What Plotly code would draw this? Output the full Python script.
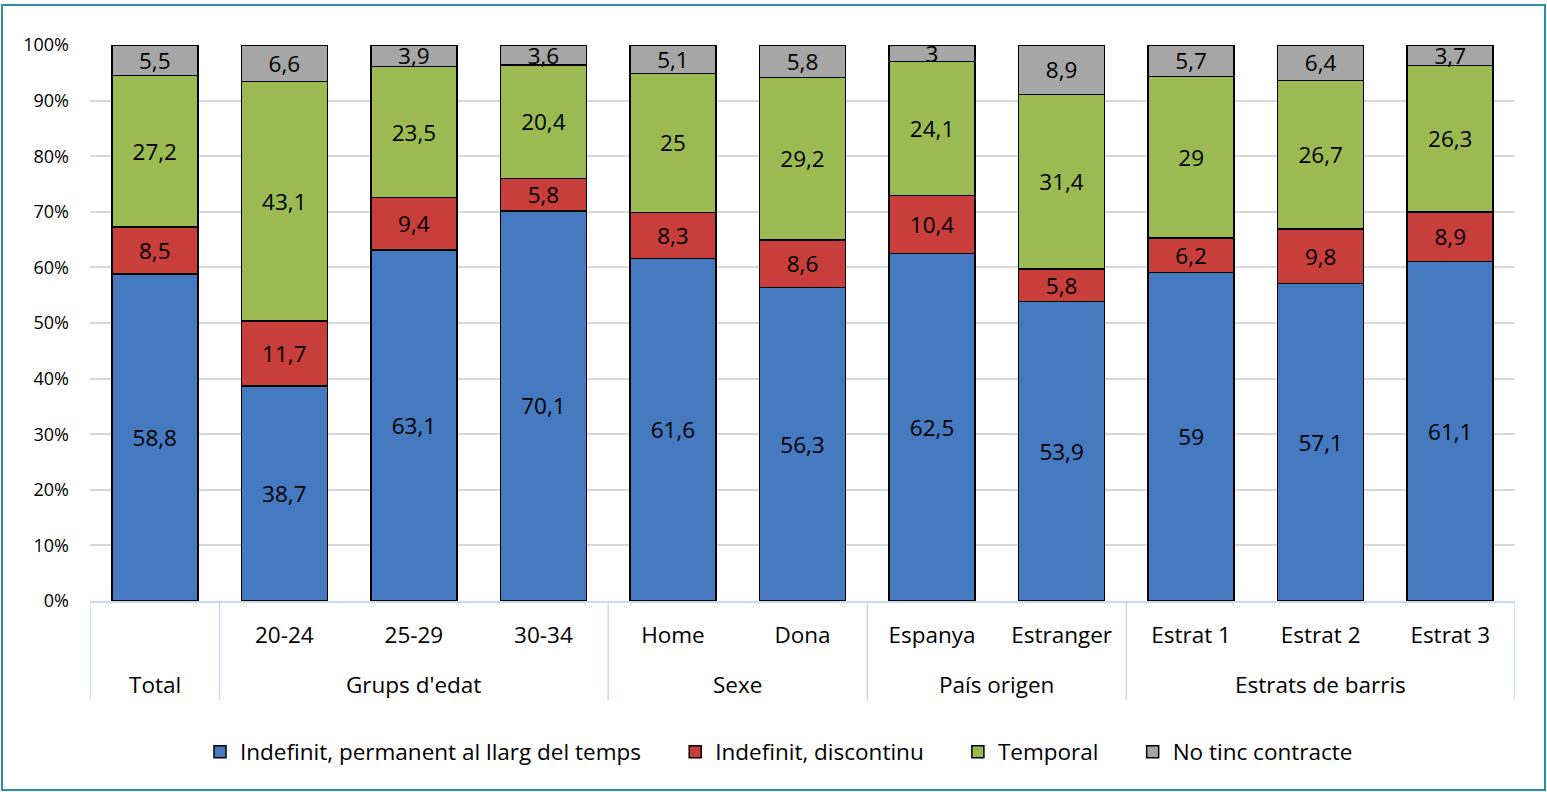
import plotly.graph_objects as go

groups = ["Total", "Grups d'edat", "Grups d'edat", "Grups d'edat", "Sexe", "Sexe",
          "País origen", "País origen", "Estrats de barris", "Estrats de barris", "Estrats de barris"]
categories = ["", "20-24", "25-29", "30-34", "Home", "Dona", "Espanya", "Estranger",
              "Estrat 1", "Estrat 2", "Estrat 3"]

indefinit_permanent = [58.8, 38.7, 63.1, 70.1, 61.6, 56.3, 62.5, 53.9, 59, 57.1, 61.1]
indefinit_discontinu = [8.5, 11.7, 9.4, 5.8, 8.3, 8.6, 10.4, 5.8, 6.2, 9.8, 8.9]
temporal = [27.2, 43.1, 23.5, 20.4, 25, 29.2, 24.1, 31.4, 29, 26.7, 26.3]
no_contracte = [5.5, 6.6, 3.9, 3.6, 5.1, 5.8, 3, 8.9, 5.7, 6.4, 3.7]

series = [
    ("Indefinit, permanent al llarg del temps", indefinit_permanent, "#4579C0"),
    ("Indefinit, discontinu", indefinit_discontinu, "#C73E3A"),
    ("Temporal", temporal, "#9BBB52"),
    ("No tinc contracte", no_contracte, "#A6A6A6"),
]

FONT = "Open Sans"
FS = 22.5
DIV_COLOR = "#C9DAF0"

def fmt(v):
    return f"{v:g}".replace(".", ",")

n = len(categories)
xi = list(range(n))

fig = go.Figure()
for k, (name, vals, color) in enumerate(series):
    label = name if k == len(series) - 1 else name + "\u00a0" * 5
    fig.add_trace(go.Bar(
        x=xi, y=vals, name=label,
        marker=dict(color=color, line=dict(color="#000000", width=1.5)),
        text=[fmt(v) for v in vals], textposition="inside", insidetextanchor="middle",
        textangle=0, constraintext="none",
        textfont=dict(family=FONT, size=FS, color="#000000"),
        hoverinfo="skip",
    ))

W, H = 1547, 792
L, R, T, B = 90, 32, 45, 191
pw, ph = W - L - R, H - T - B

def px_x(x):
    return (x - L) / pw

def px_y(y):
    return (H - B - y) / ph

# group labels and dividers derived from the groups list
annotations = []
shapes = []
bounds = [-0.5]
start = 0
for i in range(1, n + 1):
    if i == n or groups[i] != groups[start]:
        annotations.append(dict(x=(start + i - 1) / 2, y=px_y(684), xref="x", yref="paper",
                                text=groups[start], showarrow=False, xanchor="center", yanchor="middle",
                                font=dict(family=FONT, size=FS, color="#000000")))
        bounds.append(i - 0.5)
        start = i
for b in bounds:
    shapes.append(dict(type="line", xref="x", yref="paper", x0=b, x1=b, y0=0, y1=px_y(700),
                       line=dict(color=DIV_COLOR, width=1.5), layer="above"))

shapes.append(dict(type="rect", xref="paper", yref="paper",
                   x0=px_x(2), x1=px_x(1545), y0=px_y(790), y1=px_y(5),
                   line=dict(color="#2B8FA6", width=2), fillcolor="rgba(0,0,0,0)", layer="below"))

fig.update_layout(
    width=W, height=H,
    margin=dict(l=L, r=R, t=T, b=B),
    barmode="stack", barnorm="percent", bargap=0.336,
    plot_bgcolor="white", paper_bgcolor="white",
    font=dict(family=FONT, size=FS, color="#000000"),
    showlegend=True,
    legend=dict(orientation="h", x=px_x(779), xanchor="center", y=px_y(752), yanchor="middle",
                font=dict(family=FONT, size=FS, color="#000000"), traceorder="normal",
                bgcolor="rgba(0,0,0,0)"),
    xaxis=dict(tickmode="array", tickvals=xi, ticktext=categories, range=[-0.5, n - 0.5],
               showline=True, linecolor=DIV_COLOR, linewidth=1.5,
               tickfont=dict(family=FONT, size=FS, color="#000000"),
               ticks="", ticklabelstandoff=13, showgrid=False, zeroline=False),
    yaxis=dict(range=[0, 100], dtick=10, ticksuffix="%", showgrid=True,
               gridcolor="#D9D9D9", gridwidth=1.5, zeroline=False, showline=False,
               tickfont=dict(family=FONT, size=18, color="#000000"),
               ticklabelstandoff=20),
    annotations=annotations,
    shapes=shapes,
)

fig.write_html("out.html", config={"displayModeBar": False},
               post_script="document.body.style.margin='0';document.body.style.overflow='hidden';")
